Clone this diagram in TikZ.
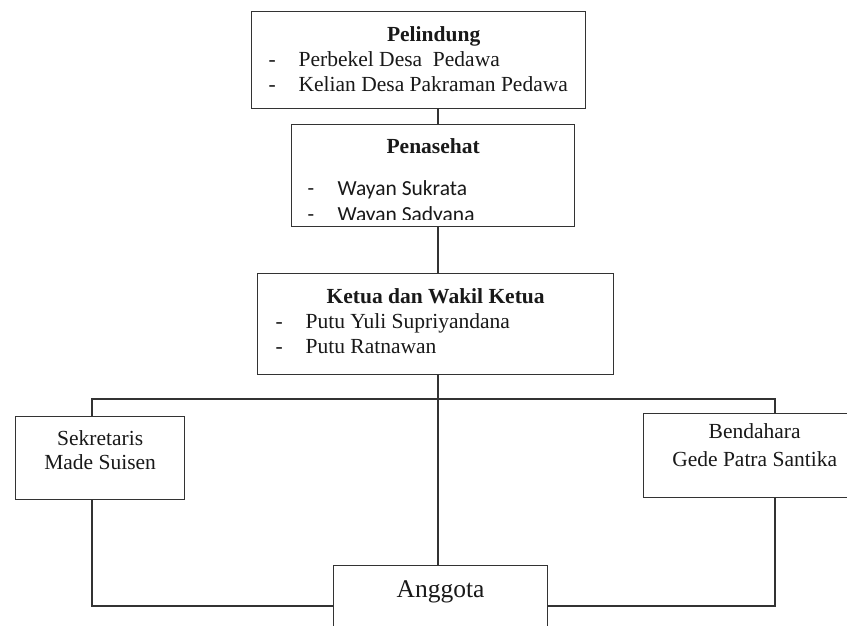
\documentclass[tikz,border=0pt]{standalone}
\usepackage{fontspec}
\setmainfont{Liberation Serif}
\setsansfont{Carlito}
\usepackage{tikz}

\tikzstyle{orgbox} = [
    rectangle,
    draw=black!80,
    line width=1.3pt,
    inner sep=0pt,
    anchor=north west,
    text=black!90
]
\tikzstyle{link} = [draw=black!80, line width=1.3pt]

\newcommand{\dashitem}[1]{\makebox[30pt][l]{-}#1\strut\par}

\begin{document}
\begin{tikzpicture}[x=1pt, y=1pt]
\fill[white] (0,0) rectangle (847,-625);
\useasboundingbox (0,0) rectangle (847,-625);

% Nodes
\node (pelindung) [orgbox] at (251,-11) {\parbox[c][97pt][t]{334pt}{%
    \fontsize{21.5}{24.6}\selectfont\vspace*{13.1pt}%
    {\centering\hspace*{30pt}\textbf{Pelindung}\strut\par}%
    \leftskip=17pt
    \dashitem{Perbekel Desa\ \ Pedawa}%
    \dashitem{Kelian Desa Pakraman Pedawa}}};

\begin{scope}[even odd rule]
\clip (285,-118) rectangle (580,-232) (292.5,-219) rectangle (572.5,-225.2);
\node (penasehat) [orgbox] at (291,-124) {\parbox[c][102pt][t]{283pt}{%
    \fontsize{21.5}{24.6}\selectfont\vspace*{11.8pt}%
    {\centering\textbf{Penasehat}\strut\par}%
    \sffamily\fontsize{21.5}{26}\selectfont
    \vspace{16pt}%
    \leftskip=16pt
    \dashitem{Wayan Sukrata}%
    \dashitem{Wayan Sadyana}}};
\end{scope}

\node (ketua) [orgbox] at (257,-273) {\parbox[c][101pt][t]{356pt}{%
    \fontsize{21.5}{25}\selectfont\vspace*{12.5pt}%
    {\centering\textbf{Ketua dan Wakil Ketua}\strut\par}%
    \leftskip=18pt
    \dashitem{Putu Yuli Supriyandana}%
    \dashitem{Putu Ratnawan}}};

\node (sekretaris) [orgbox] at (15,-416) {\parbox[c][83pt][t]{169pt}{%
    \fontsize{21.5}{24.3}\selectfont\vspace*{12pt}\centering
    Sekretaris\strut\par Made Suisen\strut\par}};

\node (bendahara) [orgbox] at (643,-413) {\parbox[c][84pt][t]{222pt}{%
    \fontsize{21.5}{27.7}\selectfont\vspace*{5.9pt}\centering
    Bendahara\strut\par Gede Patra Santika\strut\par}};

\node (anggota) [orgbox] at (333,-565) {\parbox[c][100pt][t]{214pt}{%
    \fontsize{25.5}{30}\selectfont\vspace*{11pt}\centering
    Anggota\strut\par}};

\coordinate (spine) at (438,0);
\coordinate (leftx) at (92,0);
\coordinate (rightx) at (775,0);
\coordinate (bar) at (0,-399);
\coordinate (join) at (0,-606);

% Lines
\draw [link] (spine |- pelindung.south) -- (spine |- penasehat.north);
\draw [link] (spine |- penasehat.south) -- (spine |- ketua.north);
\draw [link] (spine |- ketua.south) -- (spine |- anggota.north);
\draw [link] (leftx |- sekretaris.north) -- (leftx |- bar) -- (rightx |- bar) -- (rightx |- bendahara.north);
\draw [link] (leftx |- sekretaris.south) |- (anggota.west |- join);
\draw [link] (rightx |- bendahara.south) |- (anggota.east |- join);

\end{tikzpicture}
\end{document}
